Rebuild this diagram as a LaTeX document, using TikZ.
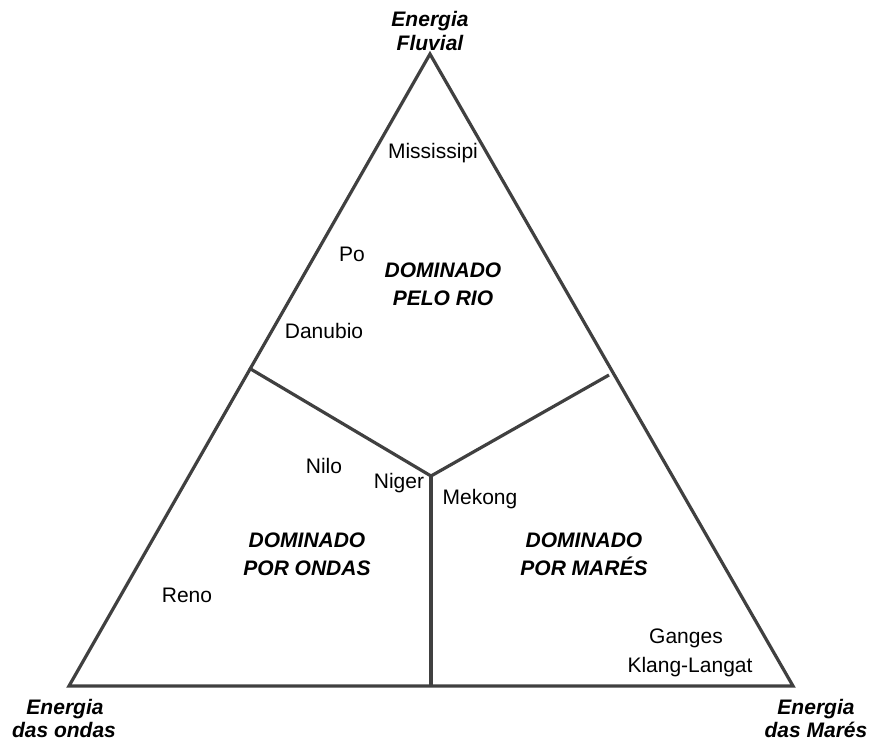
\documentclass[tikz,border=0pt]{standalone}
\usepackage{fontspec}
\setmainfont{Liberation Sans}
\begin{document}
\begin{tikzpicture}[x=1pt,y=-1pt,
  edge/.style={draw=black!75,line width=3.2pt,line join=miter},
  lbl/.style={anchor=base,inner sep=0pt,font=\fontsize{21}{25}\selectfont},
  zone/.style={anchor=base,inner sep=0pt,font=\fontsize{21}{25}\selectfont\bfseries\itshape}]
\useasboundingbox (0,0) rectangle (871,740);
\coordinate (T) at (430,54);
\coordinate (L) at (69,686);
\coordinate (R) at (793,686);
\coordinate (C) at (431,476);
\coordinate (A) at (249,368);
\coordinate (B) at (609,375);
\coordinate (D) at (431,686);
\draw[edge] (T) -- (L) -- (R) -- cycle;
\draw[edge] (A) -- (C) -- (B);
\draw[edge] (C) -- (D);
% vertex labels
\node[zone] (t1) at (430,26) {Energia};
\node[zone] (t2) at (430,50) {Fluvial};
\node[zone] (l1) at (65,714) {Energia};
\node[zone] (l2) at (64,737) {das ondas};
\node[zone] (r1) at (816,714) {Energia};
\node[zone] (r2) at (816,737) {das Marés};
% zones
\node[zone] (z1) at (443,277) {DOMINADO};
\node[zone] (z2) at (443,305) {PELO RIO};
\node[zone] (z3) at (307,547) {DOMINADO};
\node[zone] (z4) at (307,575) {POR ONDAS};
\node[zone] (z5) at (584,547) {DOMINADO};
\node[zone] (z6) at (584,575) {POR MARÉS};
% rivers
\node[lbl] (mis) at (433,158) {Mississipi};
\node[lbl] (po) at (352,261) {Po};
\node[lbl] (dan) at (324,338) {Danubio};
\node[lbl] (nil) at (324,473) {Nilo};
\node[lbl] (nig) at (399,488) {Niger};
\node[lbl] (mek) at (480,504) {Mekong};
\node[lbl] (ren) at (187,602) {Reno};
\node[lbl] (gan) at (686,643) {Ganges};
\node[lbl] (kla) at (690,672) {Klang-Langat};
\end{tikzpicture}
\end{document}
